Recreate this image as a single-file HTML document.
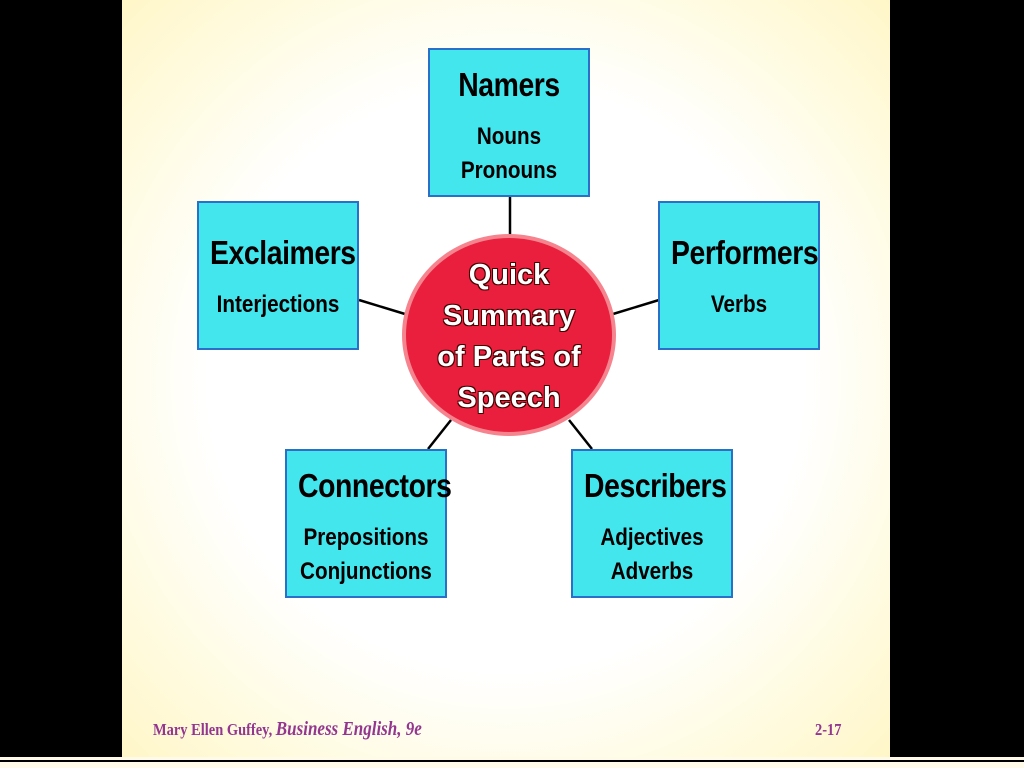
<!DOCTYPE html>
<html><head><meta charset="utf-8"><style>
body{margin:0;width:1024px;height:768px;background:#000;position:relative;overflow:hidden;font-family:"Liberation Sans",sans-serif}
.slide{position:absolute;left:122px;top:0;width:768px;height:757px;background:radial-gradient(ellipse at 50% 50%,#fff 55%,#fffbe0 80%,#fff6c8 100%)}
.box{position:absolute;width:158px;height:145px;background:#44e6ee;border:2px solid #2a70c8;text-align:center;font-weight:bold;color:#000}
.t{font-size:33px;margin-top:16px;transform:scaleX(.86);white-space:nowrap;letter-spacing:-0.5px}
.s{font-size:24px;line-height:34px;margin-top:16px;transform:scaleX(.86);white-space:nowrap}
.one .t{margin-top:31px}
.circ{position:absolute;left:402px;top:234px;width:206px;height:194px;border-radius:50%;background:#ea1f3d;border:4px solid #f5848f;text-align:center;color:#fff;font-weight:bold;font-size:29px;line-height:41px;text-shadow:-1px -1px 0 #400,1px 1px 0 #400,1px -1px 0 #400,-1px 1px 0 #400}
.foot{position:absolute;top:718px;font-family:"Liberation Serif",serif;color:#93368f;font-weight:bold;font-size:17px;transform:scaleX(.85);transform-origin:left}
</style></head><body>
<div class="slide"></div>
<div style="position:absolute;left:0;top:757px;width:1024px;height:11px;background:#fffbe8"></div>
<div style="position:absolute;left:0;top:760px;width:1024px;height:2px;background:#000"></div>
<svg style="position:absolute;left:0;top:0" width="1024" height="768">
<g stroke="#000" stroke-width="2.5">
<line x1="510" y1="197" x2="510" y2="236"/>
<line x1="359" y1="300" x2="405" y2="314"/>
<line x1="659" y1="300" x2="613" y2="314"/>
<line x1="428" y1="449" x2="451" y2="420"/>
<line x1="592" y1="449" x2="569" y2="420"/>
</g></svg>
<div class="box" style="left:428px;top:48px"><div class="t">Namers</div><div class="s">Nouns<br>Pronouns</div></div>
<div class="box one" style="left:197px;top:201px"><div class="t">Exclaimers</div><div class="s">Interjections</div></div>
<div class="box one" style="left:658px;top:201px"><div class="t">Performers</div><div class="s">Verbs</div></div>
<div class="box" style="left:285px;top:449px"><div class="t">Connectors</div><div class="s">Prepositions<br>Conjunctions</div></div>
<div class="box" style="left:571px;top:449px"><div class="t">Describers</div><div class="s">Adjectives<br>Adverbs</div></div>
<div class="circ"><div style="margin-top:17px">Quick<br>Summary<br>of Parts of<br>Speech</div></div>
<div class="foot" style="left:153px">Mary Ellen Guffey, <i style="font-size:20px">Business English, 9e</i></div>
<div class="foot" style="left:815px;top:720px">2-17</div>
</body></html>
